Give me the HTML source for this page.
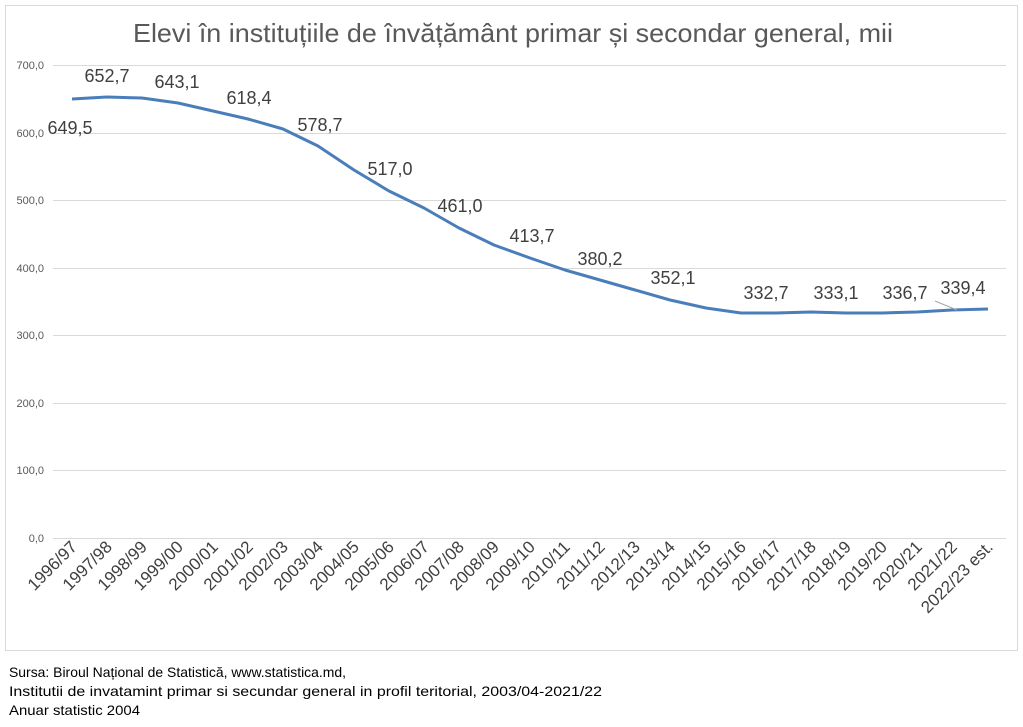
<!DOCTYPE html>
<html><head><meta charset="utf-8"><style>
body{margin:0;background:#fff;width:1023px;height:727px;overflow:hidden;font-family:"Liberation Sans",sans-serif}
</style></head><body>
<svg width="1023" height="727" xmlns="http://www.w3.org/2000/svg" style="position:absolute;left:0;top:0">
<rect x="5.5" y="5.5" width="1012" height="645" fill="#fff" stroke="#d9d9d9"/>
<text x="133" y="42" textLength="760" lengthAdjust="spacingAndGlyphs" font-size="26" fill="#595959">Elevi în  instituțiile de învățământ primar și secondar general, mii</text>
<g stroke="#d9d9d9" stroke-width="1">
<line x1="53" x2="1006" y1="65.5" y2="65.5"/><line x1="53" x2="1006" y1="133.5" y2="133.5"/>
<line x1="53" x2="1006" y1="200.5" y2="200.5"/><line x1="53" x2="1006" y1="268.5" y2="268.5"/>
<line x1="53" x2="1006" y1="335.5" y2="335.5"/><line x1="53" x2="1006" y1="403.5" y2="403.5"/>
<line x1="53" x2="1006" y1="470.5" y2="470.5"/><line x1="53" x2="1006" y1="538.5" y2="538.5"/>
</g>
<g font-size="11" fill="#595959" text-anchor="end">
<text x="44" y="69">700,0</text><text x="44" y="137">600,0</text><text x="44" y="204">500,0</text>
<text x="44" y="272">400,0</text><text x="44" y="339">300,0</text><text x="44" y="407">200,0</text>
<text x="44" y="474">100,0</text><text x="44" y="542">0,0</text>
</g>
<polyline fill="none" stroke="#4a7ebb" stroke-width="3" stroke-linejoin="round" points="72,99 107,97 142,98 178,103 213,111 248,119 283,129 318,146 354,170 389,191 424,208 459,228 494,245 530,258 565,270 600,280 635,290 670,300 706,308 741,313 776,313 811,312 846,313 882,313 917,312 952,310 988,309"/>
<line x1="935" y1="301" x2="957" y2="310" stroke="#a6a6a6"/>
<g font-size="18" fill="#404040" text-anchor="middle">
<text x="70" y="134">649,5</text><text x="107" y="82">652,7</text><text x="177" y="88">643,1</text>
<text x="249" y="104">618,4</text><text x="320" y="131">578,7</text><text x="390" y="175">517,0</text>
<text x="460" y="212">461,0</text><text x="532" y="242">413,7</text><text x="600" y="265">380,2</text>
<text x="673" y="284">352,1</text><text x="766" y="299">332,7</text><text x="836" y="299">333,1</text>
<text x="905" y="299">336,7</text><text x="963" y="294">339,4</text>
</g>
<g font-size="17" fill="#404040" text-anchor="end">
<g transform="translate(78,548) rotate(-45)"><text>1996/97</text></g>
<g transform="translate(113,548) rotate(-45)"><text>1997/98</text></g>
<g transform="translate(148,548) rotate(-45)"><text>1998/99</text></g>
<g transform="translate(184,548) rotate(-45)"><text>1999/00</text></g>
<g transform="translate(219,548) rotate(-45)"><text>2000/01</text></g>
<g transform="translate(254,548) rotate(-45)"><text>2001/02</text></g>
<g transform="translate(289,548) rotate(-45)"><text>2002/03</text></g>
<g transform="translate(324,548) rotate(-45)"><text>2003/04</text></g>
<g transform="translate(360,548) rotate(-45)"><text>2004/05</text></g>
<g transform="translate(395,548) rotate(-45)"><text>2005/06</text></g>
<g transform="translate(430,548) rotate(-45)"><text>2006/07</text></g>
<g transform="translate(465,548) rotate(-45)"><text>2007/08</text></g>
<g transform="translate(500,548) rotate(-45)"><text>2008/09</text></g>
<g transform="translate(536,548) rotate(-45)"><text>2009/10</text></g>
<g transform="translate(571,548) rotate(-45)"><text>2010/11</text></g>
<g transform="translate(606,548) rotate(-45)"><text>2011/12</text></g>
<g transform="translate(641,548) rotate(-45)"><text>2012/13</text></g>
<g transform="translate(676,548) rotate(-45)"><text>2013/14</text></g>
<g transform="translate(712,548) rotate(-45)"><text>2014/15</text></g>
<g transform="translate(747,548) rotate(-45)"><text>2015/16</text></g>
<g transform="translate(782,548) rotate(-45)"><text>2016/17</text></g>
<g transform="translate(817,548) rotate(-45)"><text>2017/18</text></g>
<g transform="translate(852,548) rotate(-45)"><text>2018/19</text></g>
<g transform="translate(888,548) rotate(-45)"><text>2019/20</text></g>
<g transform="translate(923,548) rotate(-45)"><text>2020/21</text></g>
<g transform="translate(958,548) rotate(-45)"><text>2021/22</text></g>
<g transform="translate(994,548) rotate(-45)"><text>2022/23 est.</text></g>
</g>
<g font-size="14" fill="#000">
<text x="9" y="677" textLength="337" lengthAdjust="spacingAndGlyphs">Sursa: Biroul Național de Statistică, www.statistica.md,</text>
<text x="9" y="696" textLength="593" lengthAdjust="spacingAndGlyphs">Institutii de invatamint primar si secundar general in profil teritorial, 2003/04-2021/22</text>
<text x="9" y="715" textLength="131" lengthAdjust="spacingAndGlyphs">Anuar statistic 2004</text>
</g>
</svg>
</body></html>
